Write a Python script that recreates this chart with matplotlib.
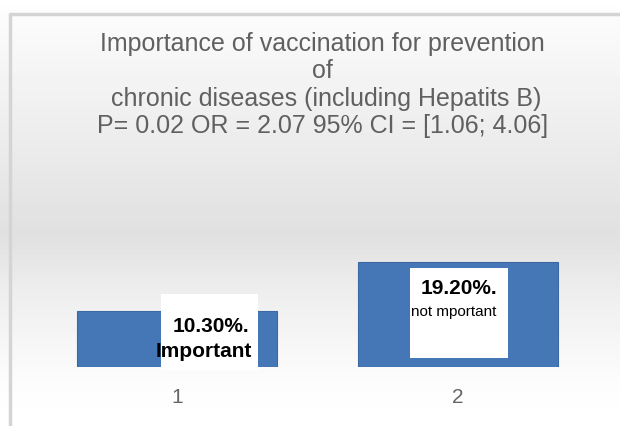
import matplotlib.pyplot as plt
import numpy as np
from matplotlib.patches import Rectangle

plt.rcParams['font.family'] = ['Liberation Sans', 'DejaVu Sans']

categories = ['1', '2']
values = [10.3, 19.2]
value_labels = ['10.30%.', '19.20%.']
name_labels = ['Important', 'not mportant']
title_lines = ['Importance of vaccination for prevention',
               'of',
               ' chronic diseases (including Hepatits B)',
               'P= 0.02 OR = 2.07 95% CI = [1.06; 4.06]']

fig = plt.figure(figsize=(6.2, 4.26), dpi=100)

# background gradient: white -> grey -> white
bg = fig.add_axes([0, 0, 1, 1], zorder=-10)
rows = np.linspace(0, 1, 426)
shade = np.interp(rows, [0, 0.04, 0.55, 0.68, 0.9, 1], [1, 0.985, 0.88, 0.93, 0.99, 1])
img = np.tile(shade[:, None], (1, 620))
bg.imshow(img, cmap='gray', vmin=0, vmax=1, aspect='auto', extent=[0, 1, 0, 1])
bg.set_xlim(0, 1)
bg.set_ylim(0, 1)
bg.axis('off')
# chart frame
bg.plot([0.016, 0.016, 1.0], [0.0, 0.968, 0.968], color='#d4d4d4', lw=2.5, solid_capstyle='butt')

ax = fig.add_axes([20 / 620, 59 / 426, 595 / 620, 177 / 426])
ax.patch.set_alpha(0)
x = np.arange(1, len(values) + 1)
bars = ax.bar(x, values, width=0.713, color='#4576b5', edgecolor='#3c69a6', linewidth=0.8)
ax.set_xlim(0.44, 2.56)
ax.set_ylim(0, 32.5)
for s in ax.spines.values():
    s.set_visible(False)
ax.set_yticks([])
ax.set_xticks(x)
ax.set_xticklabels(categories, fontsize=15, color='#666666')
ax.tick_params(axis='x', length=0, pad=15)

# data label boxes (offset from each bar)
box_dx = [0.116, 0.004]
box_top = [3.1, -1.03]
box_h = [13.95, 16.5]
box_w = 0.346
for i, (xi, v) in enumerate(zip(x, values)):
    cx = xi + box_dx[i]
    top = v + box_top[i]
    box = Rectangle((cx - box_w / 2, top - box_h[i]), box_w, box_h[i],
                    facecolor='white', edgecolor='none', zorder=3, clip_on=False)
    ax.add_patch(box)
    if i == 0:
        ax.text(cx + 0.005, top - 6.0, value_labels[i], ha='center', va='center', fontsize=15,
                fontweight='bold', color='black', zorder=4)
        t = ax.text(cx - 0.02, top - 10.6, name_labels[i], ha='center', va='center', fontsize=15,
                    fontweight='bold', color='black', zorder=4)
        t.set_clip_path(box)
    else:
        ax.text(cx, top - 3.7, value_labels[i], ha='center', va='center', fontsize=15,
                fontweight='bold', color='black', zorder=4)
        t = ax.text(cx - 0.02, top - 8.1, name_labels[i], ha='center', va='center', fontsize=11,
                    color='black', zorder=4)
        t.set_clip_path(box)

for k, line in enumerate(title_lines):
    fig.text(0.52, 1 - (44 + 27.5 * k) / 426, line, ha='center', va='center',
             fontsize=18, color='#606060')

fig.savefig('out.png', dpi=100)
